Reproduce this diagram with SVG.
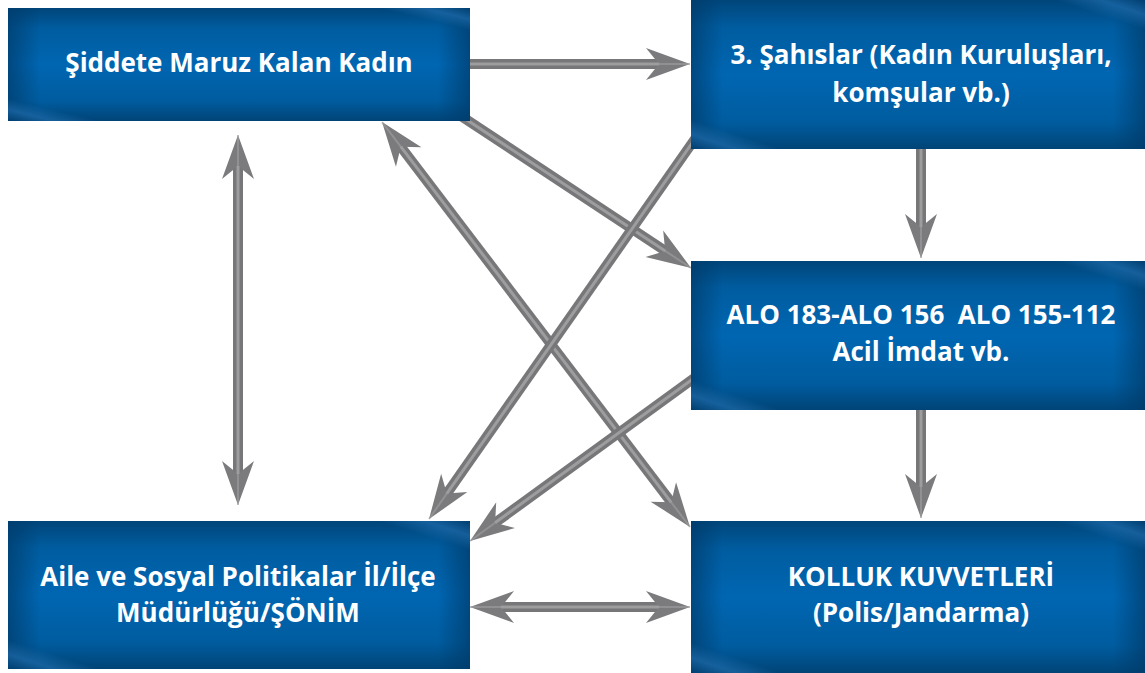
<svg xmlns="http://www.w3.org/2000/svg" width="1145" height="673" viewBox="0 0 1145 673">
<style>
.bx{fill:url(#gv)}
.ov{fill:url(#gh)}
.sh{fill:url(#gs)}
.lbl{font-family:"Open Sans","Liberation Sans",sans-serif;font-weight:bold;font-size:26px;fill:#ffffff;text-anchor:middle}
.sh1{fill:none;stroke:#77777a;stroke-width:10;marker-end:url(#ah)}
.sh2{fill:none;stroke:#77777a;stroke-width:10;marker-end:url(#ah);marker-start:url(#ah)}
.hl{fill:none;stroke:#a9a9ab;stroke-width:3;opacity:0.75}
</style>
<defs>
<linearGradient id="gv" x1="0" y1="0" x2="0" y2="1">
<stop offset="0" stop-color="#00457a"/>
<stop offset="0.18" stop-color="#005c9f"/>
<stop offset="0.5" stop-color="#0066b2"/>
<stop offset="0.82" stop-color="#005c9f"/>
<stop offset="1" stop-color="#004477"/>
</linearGradient>
<linearGradient id="gh" x1="0" y1="0" x2="1" y2="0">
<stop offset="0" stop-color="#003b6a" stop-opacity="0.7"/>
<stop offset="0.07" stop-color="#003b6a" stop-opacity="0"/>
<stop offset="0.93" stop-color="#003b6a" stop-opacity="0"/>
<stop offset="1" stop-color="#003b6a" stop-opacity="0.7"/>
</linearGradient>
<linearGradient id="gs" x1="0" y1="1" x2="1" y2="0">
<stop offset="0" stop-color="#2f7fc4" stop-opacity="0"/>
<stop offset="0.05" stop-color="#2f7fc4" stop-opacity="0.45"/>
<stop offset="0.1" stop-color="#2f7fc4" stop-opacity="0"/>
<stop offset="0.9" stop-color="#2f7fc4" stop-opacity="0"/>
<stop offset="0.95" stop-color="#2f7fc4" stop-opacity="0.45"/>
<stop offset="1" stop-color="#2f7fc4" stop-opacity="0"/>
</linearGradient>
<marker id="ah" markerUnits="userSpaceOnUse" viewBox="0 0 46 34" markerWidth="46" markerHeight="34" refX="14" refY="17" orient="auto-start-reverse">
<path d="M45,17 L1,1 L14,17 L1,33 Z" fill="#7b7b7d"/>
<path d="M45,17 L14,17" stroke="#a0a0a2" stroke-width="2" opacity="0.6"/>
</marker>
</defs>

<g id="connectors">
<line class="sh1" x1="465" y1="64" x2="659" y2="64"/>
<line class="hl" x1="465" y1="64" x2="659" y2="64"/>
<line class="sh2" x1="238" y1="166" x2="238" y2="474"/>
<line class="hl" x1="238" y1="166" x2="238" y2="474"/>
<line class="sh1" x1="921" y1="145" x2="921" y2="227"/>
<line class="hl" x1="921" y1="145" x2="921" y2="227"/>
<line class="sh1" x1="921" y1="405" x2="921" y2="487"/>
<line class="hl" x1="921" y1="405" x2="921" y2="487"/>
<line class="sh1" x1="458" y1="114" x2="665.2" y2="250.9"/>
<line class="hl" x1="458" y1="114" x2="665.2" y2="250.9"/>
<line class="sh2" x1="400.8" y1="146.7" x2="671.2" y2="502.3"/>
<line class="hl" x1="400.8" y1="146.7" x2="671.2" y2="502.3"/>
<line class="sh1" x1="697" y1="136" x2="446.8" y2="493.6"/>
<line class="hl" x1="697" y1="136" x2="446.8" y2="493.6"/>
<line class="sh1" x1="697" y1="376" x2="495.1" y2="522.8"/>
<line class="hl" x1="697" y1="376" x2="495.1" y2="522.8"/>
<line class="sh2" x1="501" y1="607" x2="659" y2="607"/>
<line class="hl" x1="501" y1="607" x2="659" y2="607"/>
</g>

<g id="node-kadin">
<rect class="bx" x="8" y="8" width="462" height="113"/>
<rect class="ov" x="8" y="8" width="462" height="113"/>
<rect class="sh" x="8" y="8" width="462" height="113"/>
<text class="lbl" x="239" y="72">Şiddete Maruz Kalan Kadın</text>
</g>

<g id="node-sahislar">
<rect class="bx" x="691" y="0" width="454" height="149"/>
<rect class="ov" x="691" y="0" width="454" height="149"/>
<rect class="sh" x="691" y="0" width="454" height="149"/>
<text class="lbl" x="921" y="64">3. Şahıslar (Kadın Kuruluşları,</text>
<text class="lbl" x="921" y="102">komşular vb.)</text>
</g>

<g id="node-alo">
<rect class="bx" x="691" y="261" width="454" height="149"/>
<rect class="ov" x="691" y="261" width="454" height="149"/>
<rect class="sh" x="691" y="261" width="454" height="149"/>
<text class="lbl" x="921" y="324" xml:space="preserve">ALO 183-ALO 156  ALO 155-112</text>
<text class="lbl" x="921" y="361">Acil İmdat vb.</text>
</g>

<g id="node-aile">
<rect class="bx" x="8" y="521" width="462" height="148"/>
<rect class="ov" x="8" y="521" width="462" height="148"/>
<rect class="sh" x="8" y="521" width="462" height="148"/>
<text class="lbl" x="238" y="586">Aile ve Sosyal Politikalar İl/İlçe</text>
<text class="lbl" x="238" y="622">Müdürlüğü/ŞÖNİM</text>
</g>

<g id="node-kolluk">
<rect class="bx" x="691" y="521" width="454" height="152"/>
<rect class="ov" x="691" y="521" width="454" height="152"/>
<rect class="sh" x="691" y="521" width="454" height="152"/>
<text class="lbl" x="921" y="586">KOLLUK KUVVETLERİ</text>
<text class="lbl" x="921" y="622">(Polis/Jandarma)</text>
</g>
</svg>
